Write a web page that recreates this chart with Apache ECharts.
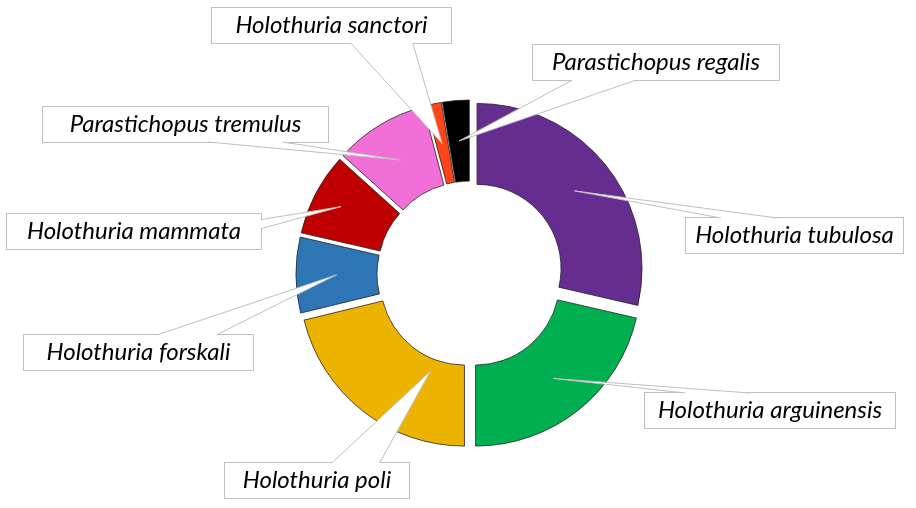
<!DOCTYPE html>
<html style="height: 100%">
<head>
    <meta charset="utf-8">
    <title>index</title>
    <style>
        html, body { margin: 0; padding: 0; background: #fff; }
        #container { width: 916px; height: 508px; }
    </style>
</head>
<body>
    <div id="container"></div>
</body>
<script src="https://cdn.jsdelivr.net/npm/echarts@6/dist/echarts.min.js"></script>
<script type="text/javascript">
    var names = [
        "Holothuria tubulosa",
        "Holothuria arguinensis",
        "Holothuria poli",
        "Holothuria forskali",
        "Holothuria mammata",
        "Parastichopus tremulus",
        "Holothuria sanctori",
        "Parastichopus regalis"
    ];
    var values = [28.6, 21.4, 21.2, 7.4, 8.1, 9.2, 1.5, 2.6];
    var colors = ["#662D91", "#00B050", "#ECB400", "#2E75B6", "#C00000", "#F36FD8", "#FF4517", "#000000"];

    // label boxes: left, top, width (height is the same for all)
    var labelBoxes = [
        [686, 218, 217],
        [645, 393, 250],
        [225, 463, 184],
        [24, 335, 229],
        [7, 214, 254],
        [43, 107, 285],
        [212, 8, 239],
        [533, 45, 246]
    ];
    // where the callout tip sits inside its slice: [along the arc, across the ring], 0..1
    var tipPos = [
        [0.5, 0.5], [0.5, 0.5], [0.27, 0.15], [0.5, 0.5],
        [0.5, 0.65], [0.5, 0.5], [0.5, 0.5], [0.5, 0.5]
    ];
    var boxH = 35;
    var explode = 9;

    var dom = document.getElementById("container");
    var myChart = echarts.init(dom);

    var option = {
        backgroundColor: "#fff",
        animation: false,
        series: [{
            type: "pie",
            center: [470, 274],
            radius: [84, 165],
            startAngle: 90,
            clockwise: true,
            selectedMode: "multiple",
            selectedOffset: explode,
            emphasis: { disabled: true },
            itemStyle: {
                borderColor: "#222",
                borderWidth: 0.8
            },
            label: { show: false },
            labelLine: { show: false },
            data: names.map(function (n, i) {
                return {
                    name: n,
                    value: values[i],
                    selected: true,
                    itemStyle: { color: colors[i] }
                };
            })
        }]
    };
    myChart.setOption(option, true);

    // Excel style callouts: label box plus a white wedge pointing into the slice
    function buildCallouts() {
        var data = myChart.getModel().getSeriesByIndex(0).getData();
        var els = [];
        names.forEach(function (n, i) {
            var L = data.getItemLayout(i);
            var ang = L.startAngle + (L.endAngle - L.startAngle) * tipPos[i][0];
            var mid = (L.startAngle + L.endAngle) / 2;
            var rr = L.r0 + (L.r - L.r0) * tipPos[i][1];
            var tip = [
                L.cx + rr * Math.cos(ang) + explode * Math.cos(mid),
                L.cy + rr * Math.sin(ang) + explode * Math.sin(mid)
            ];
            var x = labelBoxes[i][0], y = labelBoxes[i][1], w = labelBoxes[i][2], h = boxH;
            var dx = tip[0] - (x + w / 2), dy = tip[1] - (y + h / 2);
            var A, B, inw, f;
            if (Math.abs(dx) / (w / 2) > Math.abs(dy) / (h / 2)) {
                var ex = dx > 0 ? x + w : x;
                f = dy > 0 ? [0.58, 0.84] : [0.16, 0.42];
                A = [ex, y + h * f[0]];
                B = [ex, y + h * f[1]];
                inw = [dx > 0 ? -1.5 : 1.5, 0];
            } else {
                var ey = dy > 0 ? y + h : y;
                f = dx > 0 ? [0.58, 0.84] : [0.16, 0.42];
                A = [x + w * f[0], ey];
                B = [x + w * f[1], ey];
                inw = [0, dy > 0 ? -1.5 : 1.5];
            }
            els.push({
                type: "text",
                silent: true,
                z: 100,
                x: x + w / 2,
                y: y + h / 2,
                style: {
                    text: n,
                    align: "center",
                    verticalAlign: "middle",
                    width: w,
                    height: h,
                    lineHeight: h,
                    font: "italic 24px Lato",
                    fill: "#000",
                    backgroundColor: "#fff",
                    borderColor: "#bfbfbf",
                    borderWidth: 1
                }
            });
            els.push({
                type: "polygon",
                silent: true,
                z: 101,
                shape: { points: [[A[0] + inw[0], A[1] + inw[1]], A, tip, B, [B[0] + inw[0], B[1] + inw[1]]] },
                style: { fill: "#fff", stroke: null }
            });
            els.push({
                type: "polyline",
                silent: true,
                z: 102,
                shape: { points: [A, tip, B] },
                style: { stroke: "#bfbfbf", lineWidth: 1, fill: null }
            });
        });
        return els;
    }
    myChart.setOption({ graphic: buildCallouts() });
</script>
</html>
